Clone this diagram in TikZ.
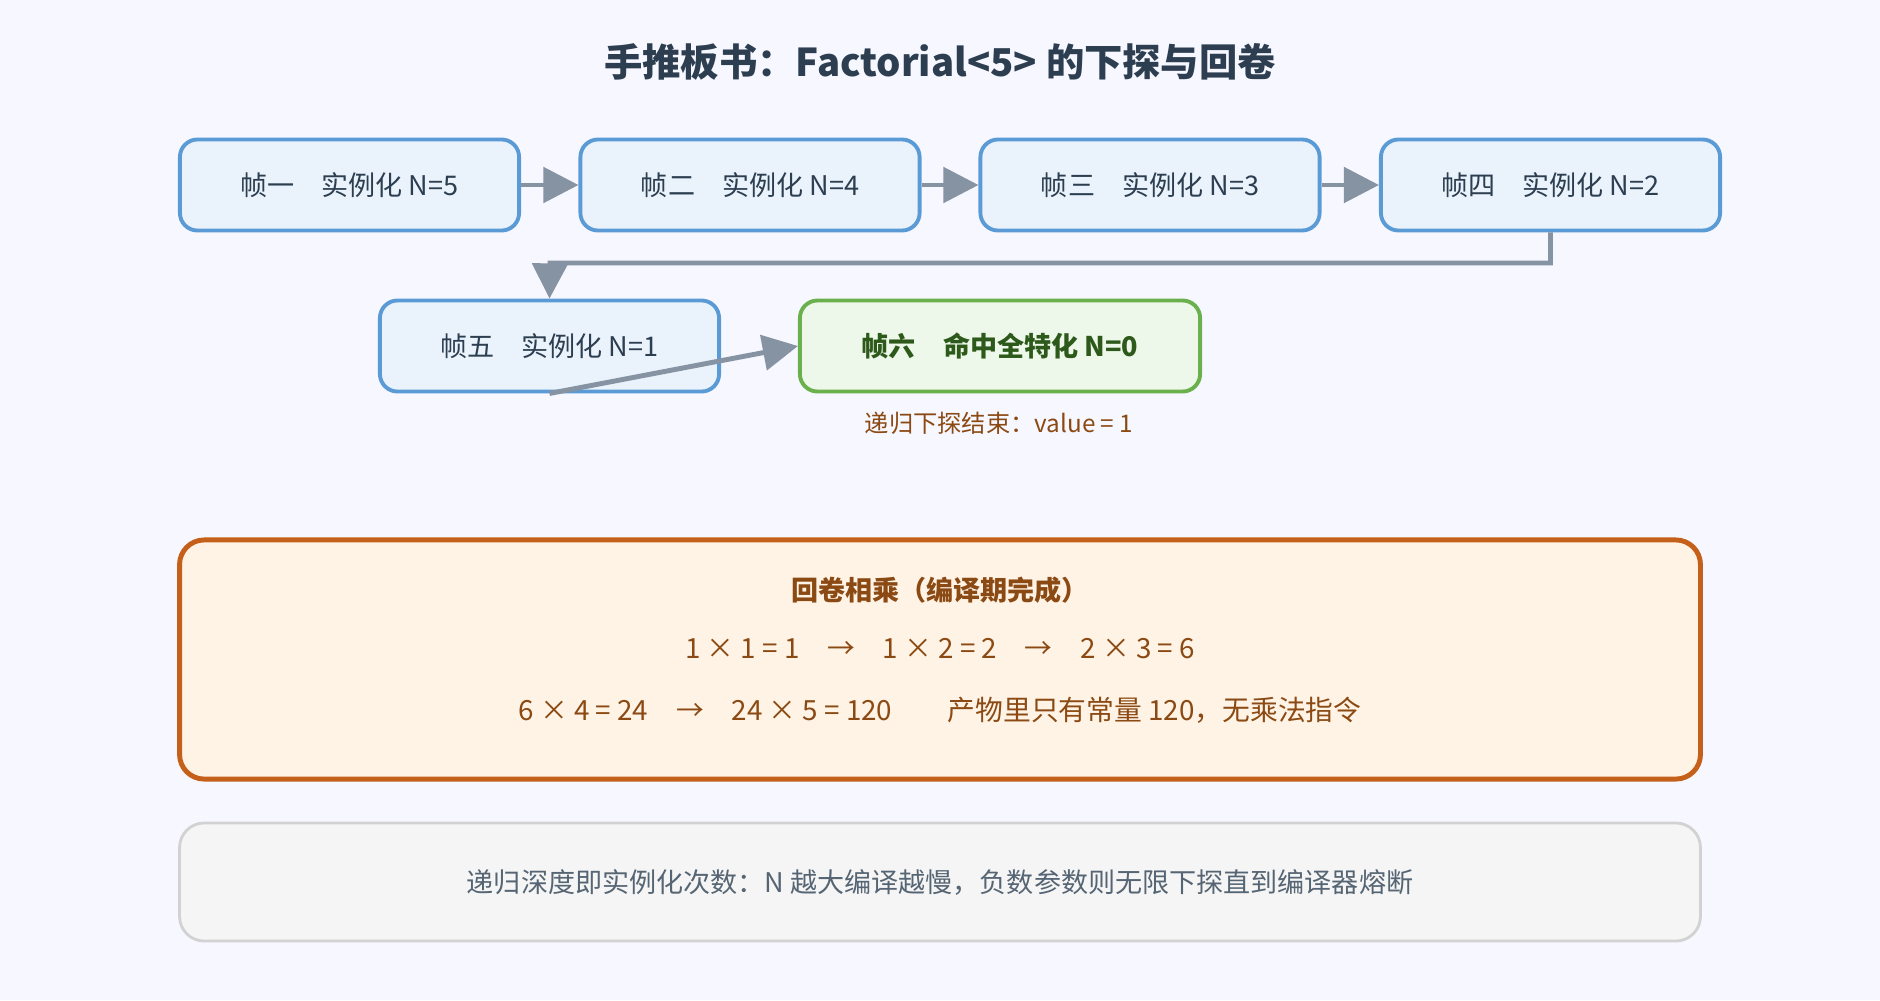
\documentclass[tikz,border=0pt]{standalone}
\usepackage{fontspec}
\setmainfont{Noto Sans CJK SC}
\usetikzlibrary{arrows.meta,positioning,calc}
\definecolor{frameblue}{HTML}{5B9BD5}
\definecolor{framefill}{HTML}{EAF3FC}
\definecolor{hitgreen}{HTML}{6AB04C}
\definecolor{hitfill}{HTML}{EDF8EA}
\definecolor{hittext}{HTML}{2D5A1B}
\definecolor{rollorange}{HTML}{C5601A}
\definecolor{rollfill}{HTML}{FFF3E6}
\definecolor{rolltext}{HTML}{8B4A13}
\definecolor{inktext}{HTML}{2C3E50}
\definecolor{arrowgray}{HTML}{8593A3}
\begin{document}
\begin{tikzpicture}[x=0.01cm, y=-0.01cm,
    frame/.style={rectangle, draw=frameblue, fill=framefill, line width=1.1pt, rounded corners=5pt, minimum width=3.39cm, minimum height=0.91cm, align=center, font=\fontsize{7.7}{9}\selectfont, text=inktext},
    hit/.style={frame, draw=hitgreen, fill=hitfill, text=hittext, minimum width=4cm, font=\fontsize{7.7}{9}\selectfont\bfseries},
    link/.style={-{Triangle[length=10pt,width=10pt]}, draw=arrowgray, line width=1.4pt}
]
    \fill[white!97!blue] (0,0) rectangle (1880,1000);
    % title
    \node[font=\fontsize{10.9}{12}\selectfont\bfseries, text=inktext] (title) at (940,62) {手推板书：Factorial<5> 的下探与回卷};

    % descent frames
    \node[frame] (f1) at (349.5,185) {帧一\quad 实例化 N=5};
    \node[frame] (f2) at (750,185) {帧二\quad 实例化 N=4};
    \node[frame] (f3) at (1150,185) {帧三\quad 实例化 N=3};
    \node[frame] (f4) at (1550.5,185) {帧四\quad 实例化 N=2};
    \node[frame] (f5) at (549.5,346) {帧五\quad 实例化 N=1};
    \node[hit] (f6) at (1000,346) {帧六\quad 命中全特化 N=0};
    \node[font=\fontsize{6.9}{8}\selectfont, text=rolltext] (endnote) at (999,423) {递归下探结束：value = 1};

    \draw[link] (f1) -- (f2);
    \draw[link] (f2) -- (f3);
    \draw[link] (f3) -- (f4);
    \draw[link] (f4.south) |- (550,263) -- (f5.north);
    \draw[link] (f5.south) -- (f6.west);

    % roll-up
    \node[rectangle, draw=rollorange, fill=rollfill, line width=1.4pt, rounded corners=7pt, minimum width=15.2cm, minimum height=2.39cm] (roll) at (940,659.5) {};
    \node[font=\fontsize{7.7}{9}\selectfont\bfseries, text=rolltext] (rolltitle) at (940,590) {回卷相乘（编译期完成）};
    \node[font=\fontsize{7.9}{9}\selectfont, text=rolltext] (rollone) at (940,649) {1 × 1 = 1\quad →\quad 1 × 2 = 2\quad →\quad 2 × 3 = 6};
    \node[font=\fontsize{7.9}{9}\selectfont, text=rolltext] (rolltwo) at (940,710) {6 × 4 = 24\quad →\quad 24 × 5 = 120\qquad 产物里只有常量 120，无乘法指令};

    % note
    \node[rectangle, draw=gray!35, fill=gray!8, line width=0.8pt, rounded corners=7pt, minimum width=15.2cm, minimum height=1.18cm, font=\fontsize{7.7}{9}\selectfont, text=inktext!80] (note) at (940,882) {递归深度即实例化次数：N 越大编译越慢，负数参数则无限下探直到编译器熔断};
\end{tikzpicture}
\end{document}
